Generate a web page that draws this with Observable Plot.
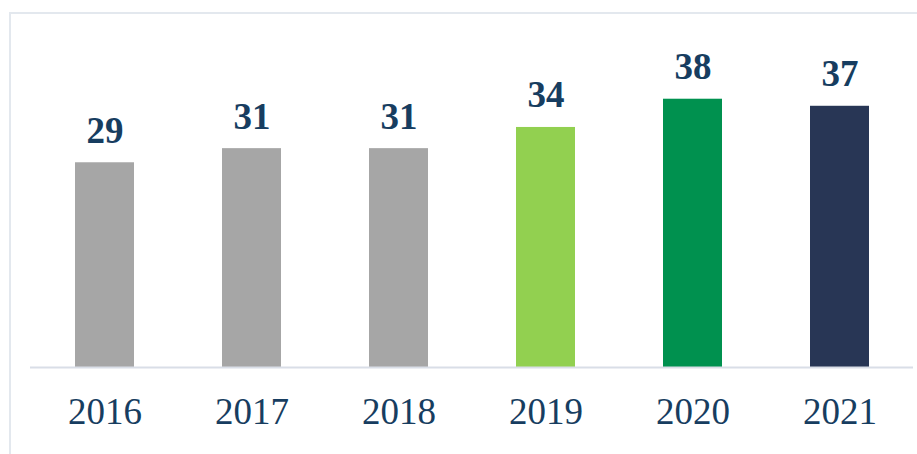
<!DOCTYPE html>
<html>
<head>
<meta charset="utf-8">
<script src="https://cdn.jsdelivr.net/npm/d3@7"></script>
<script src="https://cdn.jsdelivr.net/npm/@observablehq/plot@0.6"></script>
<style>
  html, body { margin: 0; padding: 0; background: #fff; overflow: hidden; }
  #frame { position: absolute; left: 9px; top: 12px; width: 1000px; height: 1000px;
           border: 2px solid #e3e8ee; box-sizing: border-box; }
  #chart { position: absolute; left: 0; top: 0; }
</style>
</head>
<body>
<div id="frame"></div>
<div id="chart"></div>
<script>
const years = ["2016", "2017", "2018", "2019", "2020", "2021"];
const values = [29, 31, 31, 34, 38, 37];
const colors = ["#a6a6a6", "#a6a6a6", "#a6a6a6", "#92d050", "#00914f", "#283655"];

const data = years.map((y, i) => ({year: y, value: values[i], color: colors[i]}));

const chart = Plot.plot({
  width: 917,
  height: 454,
  marginLeft: 30,
  marginRight: 4,
  marginTop: 14,
  marginBottom: 87,
  style: {background: "transparent", fontFamily: "'Liberation Serif', 'Times New Roman', serif"},
  x: {domain: years, paddingInner: 0.6, paddingOuter: 0.3, label: null, tickSize: 0, tickPadding: 28},
  y: {domain: [0, 50], axis: null},
  marks: [
    Plot.barY(data, {x: "year", y: "value", fill: "color"}),
    Plot.ruleY([0], {stroke: "#d9dee7", strokeWidth: 2}),
    Plot.text(data, {x: "year", y: "value", text: d => String(d.value), dy: -20, lineAnchor: "bottom",
      fill: "#173d60", fontSize: 37, fontWeight: "bold"}),
    Plot.axisX({tickSize: 0, tickPadding: 30, fontSize: 37, fill: "#173d60", label: null, lineAnchor: "top"})
  ]
});
document.getElementById("chart").appendChild(chart);
</script>
</body>
</html>
